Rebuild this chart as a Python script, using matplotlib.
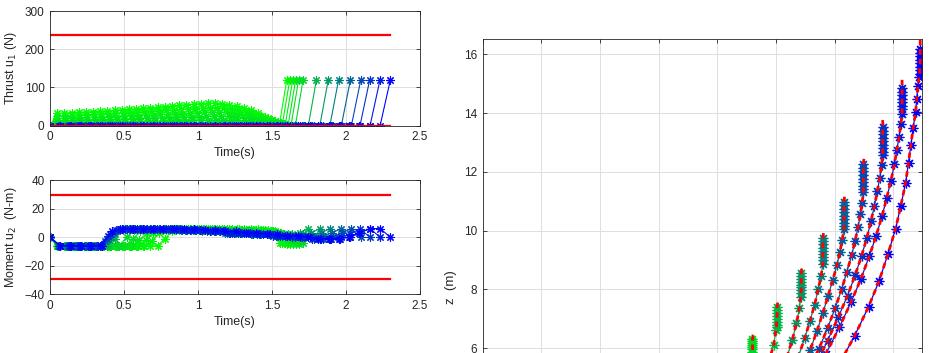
import numpy as np
import matplotlib
matplotlib.use('Agg')
import matplotlib.pyplot as plt

plt.rcParams['font.family'] = ['Liberation Sans', 'DejaVu Sans']

# final times of the trajectories (s), read from the thrust jumps
final_time = [1.60, 1.62, 1.64, 1.66, 1.68, 1.71, 1.80, 1.88, 1.95, 2.03, 2.10, 2.16, 2.23, 2.30]
n_nodes = 34

# thrust hump of the greenest trajectory (nodes 0..32), last node jumps to thrust_end
thrust_hump = [0, 32, 33, 34, 35, 36, 37, 38, 39, 40, 42, 43, 44, 46, 47, 49, 50,
               52, 53, 55, 56, 58, 59, 59, 58, 55, 51, 46, 40, 32, 24, 16, 7]
hump_level = [1.0, 0.8, 0.6, 0.42, 0.25, 0.1, 0, 0, 0, 0, 0, 0, 0, 0]
thrust_end = 120
thrust_max = 237
moment_max = 29.4

moment = [
    [0] + [-6] * 15 + [-1, 4, 5, 5, 5, 6, 6, 6, 6, 6, 6, 6, 6, 6, 5, 4, -4, -5],
    [0] + [-6] * 13 + [-3, 3, 5, 5, 6, 6, 6, 6, 6, 6, 6, 6, 6, 5, 5, 5, 5, 4, -4, -5],
    [0] + [-6] * 12 + [-2, 3, 5, 5, 6, 6, 6, 6, 6, 6, 6, 6, 5, 5, 5, 5, 5, 4, 3, -4, -5],
    [0] + [-6] * 11 + [-2, 3, 5, 5, 5, 6, 6, 6, 6, 6, 6, 5, 5, 5, 5, 5, 4, 4, 4, 3, -4, -5],
    [0] + [-6] * 10 + [-1, 4, 5, 5, 5, 6, 6, 6, 6, 6, 5, 5, 5, 5, 4, 4, 4, 4, 3, 3, 2, -3, -5],
    [0] + [-6] * 9 + [0, 5, 6, 6, 6, 6, 6, 6, 6, 5, 5, 5, 5, 4, 4, 4, 4, 3, 3, 3, 3, 2, -2, -4],
    [0] + [-6] * 7 + [-1, 5, 6, 6, 6, 6, 6, 6, 6, 5, 5, 5, 4, 4, 4, 3, 3, 3, 2, 2, 2, 2, 2, 3, 6, 0],
    [0] + [-6] * 6 + [-2, 4, 6, 6, 6, 6, 6, 6, 5, 5, 5, 4, 4, 4, 3, 3, 3, 2, 2, 2, 1, 1, 1, 2, 3, 6, 0],
    [0] + [-6] * 6 + [0, 5, 6, 6, 6, 6, 6, 6, 5, 5, 5, 4, 4, 3, 3, 3, 2, 2, 2, 1, 1, 1, 0, 1, 3, 6, 0],
    [0] + [-6] * 5 + [-3, 3, 6, 6, 6, 6, 6, 6, 6, 5, 5, 5, 4, 4, 3, 3, 3, 2, 2, 1, 1, 1, 0, 0, 1, 3, 6, 0],
    [0] + [-6] * 5 + [-1, 5, 6, 6, 6, 6, 6, 6, 5, 5, 5, 4, 4, 3, 3, 3, 2, 2, 1, 1, 0, 0, -1, -1, 0, 3, 6, 0],
    [0] + [-6] * 5 + [1, 5, 6, 6, 6, 6, 6, 6, 5, 5, 5, 4, 4, 3, 3, 2, 2, 1, 1, 0, 0, -1, -1, -1, 0, 2, 6, 0],
    [0] + [-6] * 5 + [2, 6, 6, 6, 6, 6, 6, 6, 5, 5, 4, 4, 3, 3, 3, 2, 2, 1, 1, 0, 0, -1, -1, -1, 0, 3, 6, 0],
    [0] + [-6] * 5 + [4, 6, 6, 6, 6, 6, 6, 6, 6, 5, 5, 4, 4, 3, 3, 2, 2, 1, 1, 0, -1, -1, -1, 0, 3, 6, 6, 0],
]

# right panel: trajectories k = 5..13 (x in grid units, z in m)
path_index = [5, 6, 7, 8, 9, 10, 11, 12, 13]
tip_x = [4.61, 5.03, 5.44, 5.81, 6.17, 6.50, 6.82, 7.15, 7.46]
tip_z = [6.44, 7.54, 8.70, 9.91, 11.15, 12.44, 13.76, 15.13, 16.49]
path_x = [
    [4.60, 4.60, 4.60, 4.60, 4.60, 4.60, 4.60, 4.59, 4.56, 4.50],
    [5.02, 5.02, 5.02, 5.02, 5.01, 5.01, 5.01, 5.01, 5.00, 4.96, 4.88, 4.76],
    [5.43, 5.43, 5.43, 5.43, 5.43, 5.43, 5.43, 5.42, 5.42, 5.40, 5.35, 5.28, 5.18, 5.05],
    [5.80, 5.80, 5.80, 5.80, 5.80, 5.80, 5.80, 5.80, 5.80, 5.77, 5.72, 5.66, 5.58, 5.49, 5.38, 5.25],
    [6.16, 6.16, 6.16, 6.16, 6.16, 6.16, 6.16, 6.16, 6.16, 6.13, 6.09, 6.04, 5.97, 5.89, 5.80, 5.70,
     5.58, 5.44],
    [6.49, 6.49, 6.49, 6.49, 6.49, 6.49, 6.49, 6.49, 6.49, 6.47, 6.44, 6.40, 6.35, 6.29, 6.21, 6.12,
     6.01, 5.88, 5.73, 5.55],
    [6.82, 6.82, 6.82, 6.82, 6.82, 6.82, 6.82, 6.82, 6.82, 6.80, 6.77, 6.73, 6.68, 6.62, 6.55, 6.46,
     6.35, 6.22, 6.06, 5.88, 5.67],
    [7.15, 7.15, 7.15, 7.15, 7.15, 7.15, 7.15, 7.15, 7.13, 7.10, 7.06, 7.02, 6.96, 6.89, 6.81, 6.71,
     6.59, 6.45, 6.28, 6.08, 5.85, 5.60],
    [7.46, 7.46, 7.46, 7.46, 7.46, 7.46, 7.45, 7.45, 7.44, 7.42, 7.40, 7.38, 7.34, 7.30, 7.26, 7.21,
     7.13, 7.04, 6.91, 6.76, 6.58, 6.34, 6.05],
]
path_z = [
    [6.30, 6.23, 6.16, 6.09, 6.02, 5.95, 5.88, 5.80, 5.55, 5.20],
    [7.40, 7.30, 7.20, 7.10, 7.00, 6.90, 6.80, 6.70, 6.60, 6.10, 5.55, 4.95],
    [8.56, 8.46, 8.36, 8.26, 8.16, 8.06, 7.96, 7.86, 7.72, 7.35, 6.85, 6.28, 5.65, 4.95],
    [9.75, 9.64, 9.53, 9.42, 9.31, 9.20, 9.09, 8.98, 8.87, 8.45, 8.00, 7.48, 6.92, 6.33, 5.70, 5.00],
    [10.98, 10.86, 10.74, 10.62, 10.50, 10.38, 10.26, 10.14, 10.04, 9.68, 9.27, 8.82, 8.32, 7.78,
     7.20, 6.58, 5.92, 5.22],
    [12.25, 12.13, 12.01, 11.89, 11.77, 11.65, 11.53, 11.41, 11.30, 10.95, 10.55, 10.12, 9.65, 9.15,
     8.60, 8.00, 7.36, 6.68, 5.96, 5.20],
    [13.52, 13.40, 13.28, 13.16, 13.04, 12.92, 12.80, 12.68, 12.58, 12.22, 11.80, 11.35, 10.85, 10.32,
     9.75, 9.14, 8.48, 7.78, 7.04, 6.25, 5.40],
    [14.85, 14.73, 14.61, 14.49, 14.37, 14.25, 14.12, 13.98, 13.62, 13.20, 12.74, 12.25, 11.70, 11.12,
     10.50, 9.83, 9.12, 8.36, 7.56, 6.70, 5.80, 4.90],
    [16.18, 16.06, 15.94, 15.82, 15.70, 15.58, 15.46, 15.34, 15.24, 14.92, 14.48, 14.02, 13.50, 12.91,
     12.31, 11.62, 10.85, 10.06, 9.20, 8.29, 7.41, 6.41, 5.35],
]

ink = '#262626'
star = (8, 2, 0)


def traj_color(T):
    c = (T - final_time[0]) / (final_time[-1] - final_time[0])
    return (0, 1 - c, c)


def style(ax):
    ax.grid(True, color='#dedede', lw=0.7)
    ax.set_axisbelow(True)
    ax.tick_params(direction='in', top=True, right=True, length=3, width=0.6,
                   colors=ink, labelsize=8.5, pad=4)
    for s in ax.spines.values():
        s.set_color(ink)
        s.set_linewidth(0.6)


fig = plt.figure(figsize=(9.31, 3.53), dpi=100)
ax1 = fig.add_axes([50 / 931, 1 - 125.7 / 353, 370 / 931, 114.7 / 353])
ax2 = fig.add_axes([50 / 931, 1 - 294.3 / 353, 370 / 931, 114.3 / 353])
ax3 = fig.add_axes([482.7 / 931, 0, 439.3 / 931, 1 - 39 / 353])

for k, T in enumerate(final_time):
    t = np.linspace(0, T, n_nodes)
    col = traj_color(T)
    thrust = [hump_level[k] * v for v in thrust_hump] + [thrust_end]
    ax1.plot(t, thrust, '-', color=col, lw=0.8, marker=star, ms=6, mew=0.8)
    ax2.plot(t, moment[k], '-', color=col, lw=0.8, marker=star, ms=6, mew=0.8)

t_end = final_time[-1]
ax1.plot([0, t_end], [thrust_max, thrust_max], color='r', lw=1.6)
ax1.plot([0, t_end], [0, 0], color='r', lw=1.6)
ax2.plot([0, t_end], [moment_max, moment_max], color='r', lw=1.6)
ax2.plot([0, t_end], [-moment_max, -moment_max], color='r', lw=1.6)

ax1.set_xlim(0, 2.5)
ax1.set_ylim(0, 300)
ax1.set_xticks(np.arange(0, 2.51, 0.5))
ax1.set_xticklabels(['0', '0.5', '1', '1.5', '2', '2.5'])
ax1.set_yticks([0, 100, 200, 300])
ax1.set_xlabel('Time(s)', fontsize=9, color=ink)
ax1.set_ylabel('Thrust u$_1$ (N)', fontsize=9, color=ink)
ax1.xaxis.set_label_coords(0.5, -0.19)
ax1.yaxis.set_label_coords(-0.085, 0.5)

ax2.set_xlim(0, 2.5)
ax2.set_ylim(-40, 40)
ax2.set_xticks(np.arange(0, 2.51, 0.5))
ax2.set_xticklabels(['0', '0.5', '1', '1.5', '2', '2.5'])
ax2.set_yticks([-40, -20, 0, 20, 40])
ax2.set_xlabel('Time(s)', fontsize=9, color=ink)
ax2.set_ylabel('Moment u$_2$  (N-m)', fontsize=9, color=ink)
ax2.xaxis.set_label_coords(0.5, -0.19)
ax2.yaxis.set_label_coords(-0.085, 0.5)

for i, k in enumerate(path_index):
    col = traj_color(final_time[k])
    ax3.plot(path_x[i], path_z[i], '-', color=col, lw=0.9, marker=star, ms=7, mew=0.9)
for i, k in enumerate(path_index):
    ax3.plot([tip_x[i]] + path_x[i], [tip_z[i]] + path_z[i], color='r', lw=2.0,
             ls=(0, (2, 1.4)))

ax3.set_xlim(0, 7.49)
ax3.set_ylim(5.83, 16.52)
ax3.set_xticks(range(0, 8))
ax3.set_xticklabels([])
ax3.set_yticks([6, 8, 10, 12, 14, 16])
ax3.set_ylabel('z  (m)', fontsize=9.5, color=ink)
ax3.yaxis.set_label_coords(-0.058, 0.21)

for ax in (ax1, ax2, ax3):
    style(ax)
ax3.spines['bottom'].set_visible(False)
ax3.tick_params(bottom=False)

fig.savefig('out.png', dpi=100)
